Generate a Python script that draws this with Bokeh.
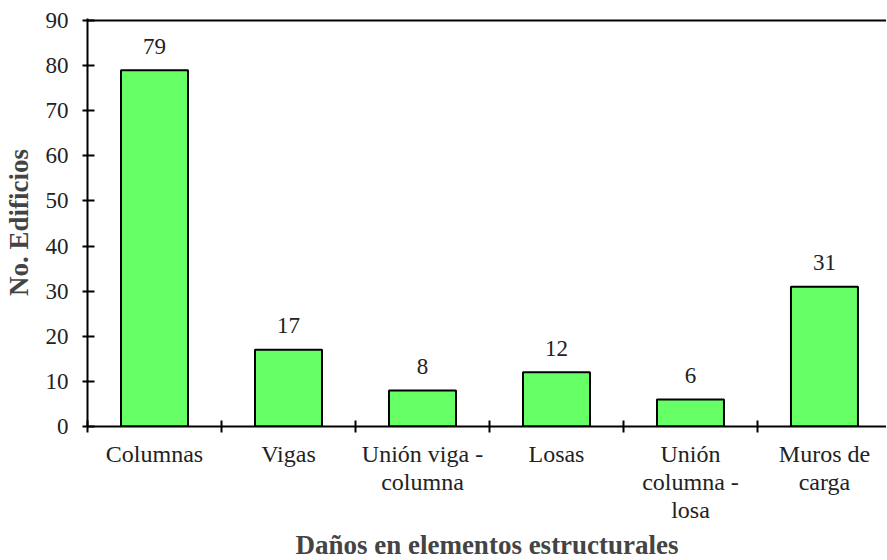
from bokeh.plotting import figure
from bokeh.models import ColumnDataSource, FixedTicker, Span, Range1d
from bokeh.core.properties import value
from bokeh.embed import file_html
from bokeh.resources import INLINE

categories = ["Columnas", "Vigas", "Unión viga -\ncolumna", "Losas", "Unión\ncolumna -\nlosa", "Muros de\ncarga"]
counts = [79, 17, 8, 12, 6, 31]
y_ticks = [0, 10, 20, 30, 40, 50, 60, 70, 80, 90]

FONT = "Liberation Serif"
xs = list(range(1, len(categories) + 1))

src = ColumnDataSource(dict(x=xs, top=counts, label=[str(v) for v in counts]))

p = figure(frame_width=799, frame_height=408, output_backend="svg", toolbar_location=None,
           x_range=Range1d(0.5, 6.463), y_range=Range1d(0, 90.45))
p.min_border_left = 80
p.min_border_right = 0
p.min_border_top = 18
p.min_border_bottom = 124
p.outline_line_color = None
p.grid.visible = False
p.background_fill_color = "white"
p.border_fill_color = "white"

p.vbar(x="x", top="top", width=0.5, bottom=0, source=src,
       fill_color="#66FF66", line_color="black", line_width=2)
p.text(x="x", y="top", text="label", source=src, y_offset=-24,
       text_align="center", text_baseline="alphabetic",
       text_font=value(FONT), text_font_size="23px", text_color="#222222")

p.add_layout(Span(location=90, dimension="width", line_color="black", line_width=2))

# Y axis
ya = p.yaxis[0]
ya.ticker = FixedTicker(ticks=y_ticks, minor_ticks=[])
ya.axis_line_color = "black"
ya.axis_line_width = 2
ya.major_tick_line_color = "black"
ya.major_tick_line_width = 2
ya.major_tick_in = 7
ya.major_tick_out = 5
ya.minor_tick_line_color = None
ya.major_label_text_font = FONT
ya.major_label_text_font_size = "23px"
ya.major_label_text_color = "#222222"
ya.major_label_standoff = 14
ya.axis_label = "No. Edificios"
ya.axis_label_text_font = FONT
ya.axis_label_text_font_style = "bold"
ya.axis_label_text_font_size = "27px"
ya.axis_label_standoff = 9

# X axis
xa = p.xaxis[0]
xa.ticker = FixedTicker(ticks=xs, minor_ticks=[x - 0.5 for x in xs] + [xs[-1] + 0.5])
xa.major_label_overrides = {x: c for x, c in zip(xs, categories)}
xa.axis_line_color = "black"
xa.axis_line_width = 2
xa.major_tick_line_color = None
xa.major_tick_in = 0
xa.major_tick_out = 0
xa.minor_tick_line_color = "black"
xa.minor_tick_line_width = 2
xa.minor_tick_in = 6
xa.minor_tick_out = 6
xa.major_label_text_font = FONT
xa.major_label_text_font_size = "24px"
xa.major_label_text_color = "#222222"
xa.major_label_text_line_height = 1.08
xa.major_label_standoff = 8
xa.axis_label = "Daños en elementos estructurales"
xa.axis_label_text_font = FONT
xa.axis_label_text_font_style = "bold"
xa.axis_label_text_font_size = "27px"
xa.axis_label_standoff = 4

open("out.html", "w").write(file_html(p, INLINE))
